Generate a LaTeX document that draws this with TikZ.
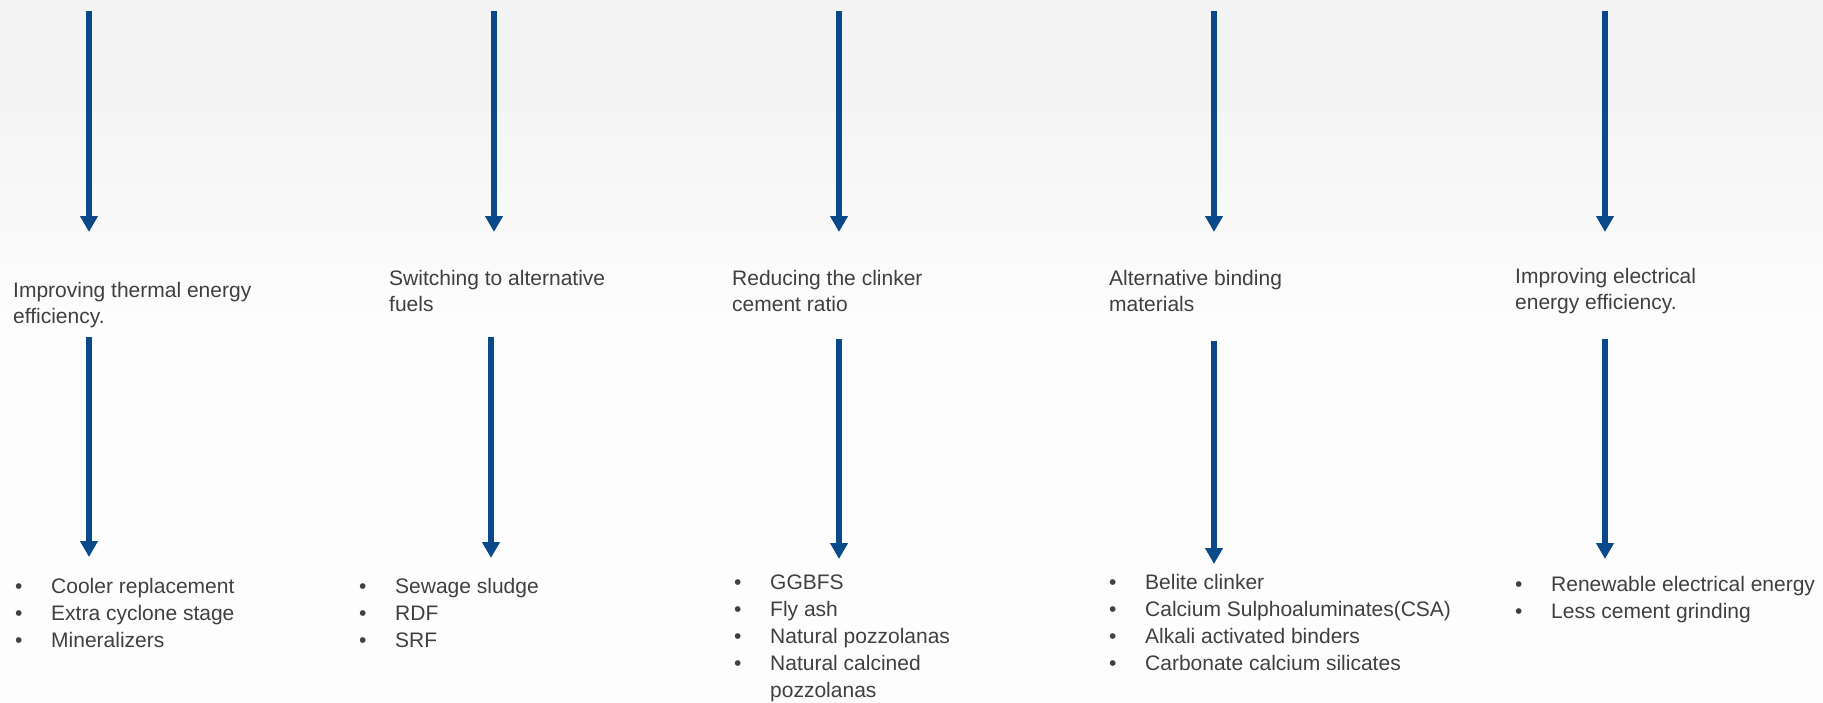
\documentclass[tikz,border=0pt]{standalone}
\usepackage{fontspec}
\setmainfont{Liberation Sans}
\usetikzlibrary{arrows.meta, positioning}
\definecolor{arrowblue}{HTML}{0B4A8A}
\definecolor{txtgray}{HTML}{404040}
\definecolor{bggray}{HTML}{F4F4F4}
\definecolor{bglight}{HTML}{FDFDFD}
\pgfdeclareverticalshading{bgshade}{100bp}{color(0bp)=(bggray); color(4bp)=(bggray);
  color(25bp)=(bglight); color(52bp)=(bglight); color(68bp)=(bggray); color(100bp)=(bggray)}
\newcommand{\bitem}[1]{\makebox[36pt][l]{\textbullet}#1}
\newcommand{\bcont}[1]{\makebox[36pt][l]{}#1}

\begin{document}
\begin{tikzpicture}[
    x=1pt, y=-1pt,
    head/.style={anchor=base west, inner sep=0pt, align=left, text=txtgray,
                 font=\fontsize{21}{26}\selectfont},
    items/.style={head, font=\fontsize{21}{26.8}\selectfont},
    arr/.style={-{Triangle[length=16pt, width=17pt]}, line width=6pt, arrowblue}
  ]
  \shade[shading=bgshade] (0,702) rectangle (1823,0);
  \useasboundingbox (0,0) rectangle (1823,702);

  % headings (placed at the baseline of the last line)
  \node[head] (h1) at (13,323) {Improving thermal energy\\efficiency.};
  \node[head] (h2) at (389,311) {Switching to alternative\\fuels};
  \node[head] (h3) at (732,311) {Reducing the clinker\\cement ratio};
  \node[head] (h4) at (1109,311) {Alternative binding\\materials};
  \node[head] (h5) at (1515,309) {Improving electrical\\energy efficiency.};

  % bullet lists
  \node[items] (l1) at (15,647) {\bitem{Cooler replacement}\\\bitem{Extra cyclone stage}\\\bitem{Mineralizers}};
  \node[items] (l2) at (359,647) {\bitem{Sewage sludge}\\\bitem{RDF}\\\bitem{SRF}};
  \node[items] (l3) at (734,697) {\bitem{GGBFS}\\\bitem{Fly ash}\\\bitem{Natural pozzolanas}\\\bitem{Natural calcined}\\\bcont{pozzolanas}};
  \node[items] (l4) at (1109,670) {\bitem{Belite clinker}\\\bitem{Calcium Sulphoaluminates(CSA)}\\\bitem{Alkali activated binders}\\\bitem{Carbonate calcium silicates}};
  \node[items] (l5) at (1515,618) {\bitem{Renewable electrical energy}\\\bitem{Less cement grinding}};

  % arrow ends
  \coordinate (a1) at (89,11);   \coordinate (b1) at (89,232);
  \coordinate (a2) at (494,11);  \coordinate (b2) at (494,232);
  \coordinate (a3) at (839,11);  \coordinate (b3) at (839,232);
  \coordinate (a4) at (1214,11); \coordinate (b4) at (1214,232);
  \coordinate (a5) at (1605,11); \coordinate (b5) at (1605,232);
  \coordinate (c1) at (89,337);   \coordinate (d1) at (89,557);
  \coordinate (c2) at (491,337);  \coordinate (d2) at (491,558);
  \coordinate (c3) at (839,339);  \coordinate (d3) at (839,559);
  \coordinate (c4) at (1214,341); \coordinate (d4) at (1214,564);
  \coordinate (c5) at (1605,339); \coordinate (d5) at (1605,559);

  \draw[arr] (a1) -- (b1);
  \draw[arr] (a2) -- (b2);
  \draw[arr] (a3) -- (b3);
  \draw[arr] (a4) -- (b4);
  \draw[arr] (a5) -- (b5);
  \draw[arr] (c1) -- (d1);
  \draw[arr] (c2) -- (d2);
  \draw[arr] (c3) -- (d3);
  \draw[arr] (c4) -- (d4);
  \draw[arr] (c5) -- (d5);
\end{tikzpicture}
\end{document}
